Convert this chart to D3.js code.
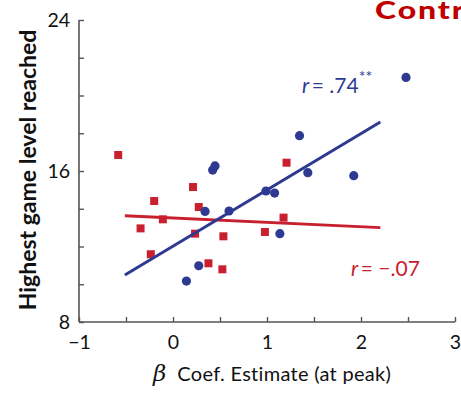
<!DOCTYPE html>
<html>
<head>
<meta charset="utf-8">
<script src="https://cdn.jsdelivr.net/npm/d3@7"></script>
<style>
  html, body { margin: 0; padding: 0; background: #fff; }
  svg { display: block; overflow: hidden; }
  text { font-family: Lato, "Open Sans", "Noto Sans", sans-serif; }
</style>
</head>
<body>
<svg id="chart" width="461" height="394"></svg>
<script>
// Control group: per-subject beta estimate vs. highest game level
const redX = [-0.583, -0.20, -0.345, -0.108, -0.236, 0.213, 0.274, 0.235, 0.377, 0.536, 0.525, 0.978, 1.176, 1.208];
const redY = [16.85, 14.41, 12.96, 13.44, 11.59, 15.15, 14.09, 12.68, 11.11, 12.54, 10.79, 12.77, 13.53, 16.44];
const blueX = [2.479, 1.346, 1.434, 1.923, 0.989, 1.081, 1.137, 0.596, 0.341, 0.422, 0.447, 0.274, 0.143];
const blueY = [20.96, 17.87, 15.91, 15.75, 14.94, 14.83, 12.68, 13.88, 13.86, 16.05, 16.27, 10.98, 10.17];

// Fitted lines (start / end points in data units)
const blueFitX = [-0.512, 2.206];
const blueFitY = [10.49, 18.60];
const redFitX = [-0.512, 2.206];
const redFitY = [13.63, 13.00];

const xTicks = [-1, -0.5, 0, 0.5, 1, 1.5, 2, 2.5, 3];
const xTickLabels = ["\u22121", "", "0", "", "1", "", "2", "", "3"];
const yTicks = [8, 10, 12, 14, 16, 18, 20, 22, 24];
const yTickLabels = ["8", "", "", "", "16", "", "", "", "24"];

const BLUE = "#2e3a91";
const RED = "#c8202f";
const TICK_FONT = "'Liberation Sans Narrow', 'Arial Narrow', Lato, sans-serif";

const svg = d3.select("#chart");
const x = d3.scaleLinear().domain([-1, 3]).range([79, 455]);
const y = d3.scaleLinear().domain([8, 24]).range([322, 20]);

// Axes
const xAxis = d3.axisBottom(x).tickValues(xTicks).tickSize(-5)
  .tickFormat((d, i) => xTickLabels[i]);
const yAxis = d3.axisLeft(y).tickValues(yTicks).tickSize(-5)
  .tickFormat((d, i) => yTickLabels[i]);

const gx = svg.append("g").attr("transform", "translate(0,322)").call(xAxis);
const gy = svg.append("g").attr("transform", "translate(79,0)").call(yAxis);

[gx, gy].forEach(g => {
  g.select(".domain").attr("stroke", "#555").attr("stroke-width", 1.6);
  g.selectAll(".tick line").attr("stroke", "#555").attr("stroke-width", 1.4);
  g.selectAll(".tick text").attr("fill", "#111").attr("font-size", 19.5)
    .attr("font-family", TICK_FONT);
});
gx.select(".domain").attr("d", "M79,0H455");
gy.select(".domain").attr("d", "M0,322V20");
gx.selectAll(".tick text").attr("y", 27).attr("dy", null);
gy.selectAll(".tick text").attr("x", -9);

// Scatter points
svg.append("g").selectAll("rect").data(redX).join("rect")
  .attr("x", (d) => x(d) - 4).attr("y", (d, i) => y(redY[i]) - 4)
  .attr("width", 8).attr("height", 8).attr("fill", RED);

svg.append("g").selectAll("circle").data(blueX).join("circle")
  .attr("cx", (d) => x(d)).attr("cy", (d, i) => y(blueY[i]))
  .attr("r", 4.6).attr("fill", BLUE);

// Regression lines
const line = d3.line().x(d => x(d[0])).y(d => y(d[1]));
svg.append("path").datum(d3.zip(redFitX, redFitY)).attr("d", line)
  .attr("stroke", RED).attr("stroke-width", 3).attr("fill", "none");
svg.append("path").datum(d3.zip(blueFitX, blueFitY)).attr("d", line)
  .attr("stroke", BLUE).attr("stroke-width", 3).attr("fill", "none");

// Correlation labels
const rb = svg.append("text").attr("x", 302).attr("y", 93)
  .attr("font-size", 21).attr("fill", BLUE);
rb.append("tspan").attr("font-style", "italic").text("r");
rb.append("tspan").text("\u2009= .74");
rb.append("tspan").attr("font-size", 16).attr("dy", -11).text("**");

const rr = svg.append("text").attr("x", 351).attr("y", 276)
  .attr("font-size", 21).attr("fill", RED);
rr.append("tspan").attr("font-style", "italic").text("r");
rr.append("tspan").text("\u2009= \u2212.07");

// Axis titles
svg.append("text")
  .attr("transform", "translate(36,170) rotate(-90)")
  .attr("text-anchor", "middle").attr("font-size", 23).attr("font-weight", "bold")
  .attr("fill", "#111").text("Highest game level reached");

const xt = svg.append("text").attr("x", 153).attr("y", 381)
  .attr("font-size", 20).attr("fill", "#111");
xt.append("tspan").attr("font-family", "'DejaVu Serif', 'Liberation Serif', serif")
  .attr("font-style", "italic").attr("font-size", 23).text("\u03b2");
xt.append("tspan").attr("dx", 11).attr("letter-spacing", 0.3).text("Coef. Estimate (at peak)");

// Group title (runs past the right edge)
svg.append("text").attr("transform", "translate(375,19) scale(1.28,1)")
  .attr("font-size", 25).attr("font-weight", 900).attr("fill", "#c00000")
  .attr("letter-spacing", 1.5)
  .text("Control");
</script>
</body>
</html>
